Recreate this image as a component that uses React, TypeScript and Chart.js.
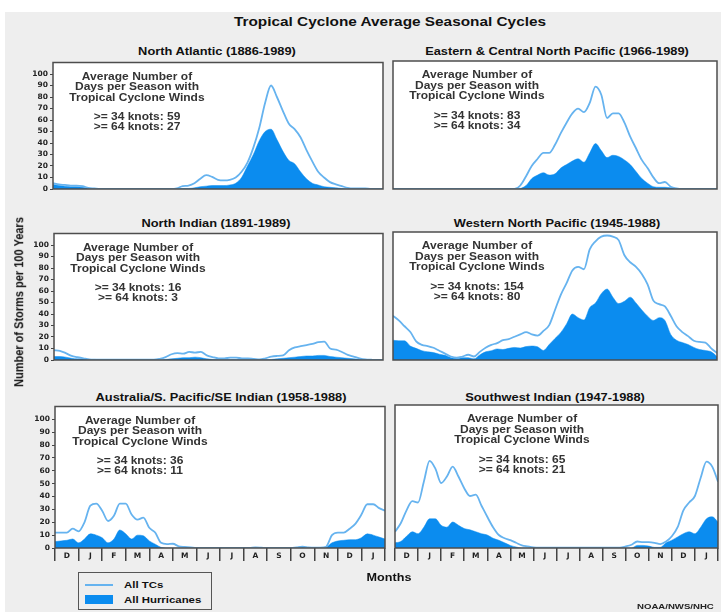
import React, { useEffect, useRef } from 'react';
import { Chart, registerables } from 'chart.js';

Chart.register(...registerables);

// ---------------- data ----------------
const mainTitle = 'Tropical Cyclone Average Seasonal Cycles';
const panelTitles = [
  'North Atlantic (1886-1989)',
  'Eastern & Central North Pacific (1966-1989)',
  'North Indian (1891-1989)',
  'Western North Pacific (1945-1988)',
  'Australia/S. Pacific/SE Indian (1958-1988)',
  'Southwest Indian (1947-1988)',
];
const knots34 = [59, 83, 16, 154, 36, 65];
const knots64 = [27, 34, 3, 80, 11, 21];
const noteHeader = ['Average Number of', 'Days per Season with', 'Tropical Cyclone Winds'];
const monthLabels = ['D', 'J', 'F', 'M', 'A', 'M', 'J', 'J', 'A', 'S', 'O', 'N', 'D', 'J'];
const yTickValues = [0, 10, 20, 30, 40, 50, 60, 70, 80, 90, 100];
const yAxisTitle = 'Number of Storms per 100 Years';
const xAxisTitle = 'Months';
const legendLabels = ['All TCs', 'All Hurricanes'];
const creditText = 'NOAA/NWS/NHC';

// sample positions: quarter-month steps from start of Dec to end of the following Jan (14 months)
const samplePositions = Array.from({ length: 57 }, (_, i) => i / 4);

const naTC = [5, 4, 3.5, 3, 3, 2.5, 1, 0.5, 0, 0, 0, 0, 0, 0, 0, 0, 0, 0, 0, 0, 0,
  0.5, 2.5, 3, 5, 9, 12, 10.5, 8, 7.5, 8, 10, 15, 23, 36, 53, 75, 90, 80, 68, 57, 52, 45, 34, 24,
  15, 10, 6, 4, 2.5, 1, 0.5, 0.5, 0.5, 0, 0, 0];
const naHU = [4, 3, 2.5, 2, 2, 1.5, 0.5, 0, 0, 0, 0, 0, 0, 0, 0, 0, 0, 0, 0, 0, 0,
  0, 0.5, 0.5, 1, 2, 2.5, 3, 3, 3, 3.5, 5, 10, 20, 30, 42, 50, 52, 43, 33, 25, 22, 15, 9, 5,
  3.5, 2, 1.5, 1, 0.5, 0, 0, 0, 0, 0, 0, 0];

const epTC = [0, 0, 0, 0, 0, 0, 0, 0, 0, 0, 0, 0, 0, 0, 0, 0, 0, 0, 0, 0, 0, 0,
  3, 11, 20, 26, 31, 31, 38, 48, 57, 65, 69, 66, 74, 88, 81, 61, 65, 65, 57, 45, 35, 25, 18,
  10, 5, 6, 2, 0.5, 0, 0, 0, 0, 0, 0, 0];
const epHU = [0, 0, 0, 0, 0, 0, 0, 0, 0, 0, 0, 0, 0, 0, 0, 0, 0, 0, 0, 0, 0, 0,
  0.5, 3, 9, 12, 14, 12, 13, 18, 21, 24, 26, 23, 31, 39, 33, 27, 29, 28, 25, 21, 15, 9, 5,
  2, 1.5, 1.5, 1, 0.5, 0, 0, 0, 0, 0, 0, 0];

const niTC = [8.5, 8, 6, 3.5, 2.5, 1.5, 0.5, 0.3, 0.2, 0.2, 0.2, 0.2, 0.2, 0.2, 0.2, 0.2, 0.2, 0.2,
  1, 2.5, 5, 6, 5.5, 7, 6.5, 7, 4, 2.5, 1.5, 1.5, 2, 2, 1.5, 1.5, 1, 0.5, 1.5, 3, 3.5, 4,
  8.5, 11, 12, 13, 14, 15.5, 16, 10, 9, 7, 4.5, 3, 1.5, 0.5, 0.2, 0, 0];
const niHU = [3, 3, 2.5, 1.5, 1, 1, 0.5, 0.5, 0, 0, 0, 0, 0, 0, 0, 0, 0, 0, 0,
  0.5, 1, 1.5, 2, 2, 2.5, 2, 1, 0.5, 0.3, 0.3, 0.3, 0.3, 0.3, 0.3, 0.3, 0.3, 0.3,
  0.5, 1, 1.5, 2, 2.5, 3, 3.5, 3.5, 4, 4, 3, 2.5, 2, 1.5, 1, 0.5, 0.3, 0, 0, 0];

const wpTC = [38, 34, 29, 24, 16, 13, 12, 10.5, 8, 5.5, 3, 2, 3, 4.5, 3, 7, 10.5, 13, 14.5, 17,
  18, 20, 22, 24, 22, 21, 25, 30, 43, 56, 66, 77, 80, 78, 95, 102, 106, 107, 106, 103, 90, 84,
  80, 74, 65, 51, 48, 46, 38, 29, 24, 20.5, 16.5, 15.5, 15, 10, 6];
const wpHU = [17, 16.5, 16.5, 12, 10, 8, 7, 6.4, 5, 4, 2, 1.3, 2, 2, 1, 4.4, 7, 8, 9.5, 9, 10,
  10.8, 10.3, 11.5, 12, 11.3, 8.2, 13.3, 18.5, 23.6, 31, 39.5, 36.4, 34.4, 45, 49, 57, 61, 54,
  48.5, 50.5, 54, 49, 43, 37.7, 34, 36.4, 34, 22, 17, 15, 13.3, 10.8, 9, 8.2, 7, 3];

const auTC = [12, 12, 12, 15, 13, 20, 33, 34.5, 29, 21, 25, 34.5, 34.5, 26, 22, 23.6, 15.7, 12,
  4, 3, 3.3, 1.3, 0.8, 0.5, 0, 0, 0, 0, 0, 0, 0, 0, 0, 0, 0.5, 0.3, 0, 0, 0, 0, 0, 0.5, 1, 0.5,
  0.3, 0.3, 1, 10, 12, 12, 15, 19, 26, 34, 34, 31, 29];
const auHU = [5, 5.5, 6, 7, 4, 7, 11, 10, 8, 4, 7, 14, 11, 7, 10, 9.5, 5.5, 3, 0.5, 0, 0, 0, 0,
  0, 0, 0, 0, 0, 0, 0, 0, 0, 0, 0, 0, 0, 0, 0, 0, 0, 0, 0.3, 0.8, 0.3, 0, 0, 0.5, 4, 5.5, 6,
  6.5, 6.5, 8, 11, 10, 8.5, 7];

const swTC = [12.5, 19, 29, 36, 35, 51, 67, 61, 50, 55, 62.6, 55, 46, 40, 41, 32.5, 24, 16, 10,
  7.5, 6, 4, 2, 1.2, 0.5, 0.3, 0.3, 0.3, 0.3, 0.3, 0.3, 0.3, 0.3, 0.3, 0.3, 0.3, 0.3, 0.3, 0.3,
  0.3, 1.2, 2.5, 5, 4.5, 4.5, 4, 3, 5, 9, 16, 29, 35, 40, 54, 66.5, 62.6, 51];
const swHU = [4, 5, 9, 12.5, 11, 16, 22.5, 22.5, 17.5, 16, 20, 17.5, 15, 14, 12.5, 11, 10, 7.5,
  6, 4, 2, 0.8, 0, 0, 0, 0, 0, 0, 0, 0, 0, 0, 0, 0, 0, 0, 0, 0, 0, 0, 0, 0, 2, 2, 1.5, 0.5, 0.5,
  4, 6, 8.5, 11, 12.5, 11, 16, 22.5, 24, 20];

const tcSeries = [naTC, epTC, niTC, wpTC, auTC, swTC];
const huSeries = [naHU, epHU, niHU, wpHU, auHU, swHU];

// ---------------- styles / layout ----------------
const TC_COLOR = '#66b3ef';
const HU_COLOR = '#0b8cef';
const BG = '#eeeeee';
const FONT = '"Liberation Sans", Arial, Helvetica, sans-serif';
const TICK_FONT = { family: '"DejaVu Sans", sans-serif', weight: 'bold' as const, size: 7.5 };
const PAD = 5;
const STRETCH = 1.2;

const boxes = [
  { left: 53, top: 61, right: 383, bottom: 204, titleX: 217, titleY: 51, textX: 84 },
  { left: 388, top: 61, right: 717, bottom: 204, titleX: 557, titleY: 51, textX: 84 },
  { left: 54, top: 232, right: 383, bottom: 375, titleX: 216, titleY: 223, textX: 84 },
  { left: 388, top: 232, right: 717, bottom: 375, titleX: 557, titleY: 223, textX: 84 },
  { left: 55, top: 405, right: 385, bottom: 548, titleX: 221, titleY: 397, textX: 85 },
  { left: 390, top: 405, right: 718, bottom: 548, titleX: 555, titleY: 397, textX: 127 },
];
const noteOffsets = [14.5, 25, 35.5, 55, 65];

const monthTickValues = monthLabels.flatMap((_, i) => [i, i + 0.5]).concat([monthLabels.length]);

const panelDeco = {
  id: 'panelDeco',
  beforeDraw(chart: any) {
    const { ctx, chartArea: a } = chart;
    ctx.save();
    ctx.fillStyle = '#ffffff';
    ctx.fillRect(a.left, a.top, a.right - a.left, a.bottom - a.top);
    ctx.restore();
  },
  afterDraw(chart: any, _args: any, opts: any) {
    const { ctx, chartArea: a } = chart;
    ctx.save();
    ctx.fillStyle = '#333333';
    ctx.font = `bold 10px ${FONT}`;
    ctx.textAlign = 'center';
    ctx.textBaseline = 'middle';
    const lines: string[] = opts.lines || [];
    lines.forEach((line, i) => {
      ctx.save();
      ctx.translate(a.left + opts.textX, a.top + noteOffsets[i]);
      ctx.scale(STRETCH, 1);
      ctx.fillText(line, 0, 0);
      ctx.restore();
    });
    ctx.strokeStyle = '#4d4d4d';
    ctx.lineWidth = 1.5;
    ctx.strokeRect(a.left, a.top, a.right - a.left, a.bottom - a.top);
    ctx.restore();
  },
};

function Panel({ index }: { index: number }) {
  const ref = useRef<HTMLCanvasElement>(null);
  const b = boxes[index];
  const isLeft = index % 2 === 0;
  const isBottom = index >= 4;
  const cl = isLeft ? 18 : b.left - PAD;
  const ct = b.top - PAD;
  const cw = b.right + PAD - cl;
  const ch = isBottom ? b.bottom + 16 - ct : b.bottom + PAD - ct;
  const yAxisWidth = b.left - cl;

  useEffect(() => {
    const toXY = (arr: number[]) => arr.map((v, i) => ({ x: samplePositions[i], y: v }));
    const lines = [
      ...noteHeader,
      `>= 34 knots: ${knots34[index]}`,
      `>= 64 knots: ${knots64[index]}`,
    ];
    const chart = new Chart(ref.current!, {
      type: 'line',
      data: {
        datasets: [
          {
            label: legendLabels[0],
            data: toXY(tcSeries[index]),
            borderColor: TC_COLOR,
            borderWidth: 1.8,
            pointRadius: 0,
            fill: false,
            cubicInterpolationMode: 'monotone',
          },
          {
            label: legendLabels[1],
            data: toXY(huSeries[index]),
            borderColor: HU_COLOR,
            borderWidth: 0.5,
            backgroundColor: HU_COLOR,
            pointRadius: 0,
            fill: 'origin',
            cubicInterpolationMode: 'monotone',
          },
        ],
      },
      options: {
        responsive: false,
        animation: false,
        devicePixelRatio: 1,
        events: [],
        layout: {
          padding: { left: isLeft ? 0 : PAD, right: PAD, top: PAD, bottom: isBottom ? 1 : PAD },
        },
        plugins: {
          legend: { display: false },
          tooltip: { enabled: false },
          title: { display: false },
          panelDeco: { lines, textX: b.textX },
        } as any,
        scales: {
          x: {
            type: 'linear',
            min: 0,
            max: monthLabels.length,
            display: isBottom,
            afterBuildTicks: (axis: any) => {
              axis.ticks = monthTickValues.map((v) => ({ value: v }));
            },
            afterFit: (axis: any) => {
              axis.height = 15;
            },
            grid: {
              drawOnChartArea: false,
              drawTicks: true,
              tickLength: 13,
              lineWidth: 1.5,
              color: (c: any) => (c.index % 2 === 0 ? '#444444' : 'rgba(0,0,0,0)'),
            },
            border: { display: false },
            ticks: {
              autoSkip: false,
              maxRotation: 0,
              minRotation: 0,
              padding: -9,
              font: TICK_FONT,
              color: '#222222',
              callback: (_v: any, i: number) => (i % 2 === 1 ? monthLabels[(i - 1) / 2] : ''),
            },
          },
          y: {
            type: 'linear',
            min: 0,
            max: 110,
            display: isLeft,
            afterBuildTicks: (axis: any) => {
              axis.ticks = yTickValues.map((v) => ({ value: v }));
            },
            afterFit: (axis: any) => {
              axis.width = yAxisWidth;
            },
            grid: { drawOnChartArea: false, drawTicks: true, tickLength: 3, color: '#444444' },
            border: { display: false },
            ticks: { font: TICK_FONT, color: '#222222', padding: 2 },
          },
        },
      },
      plugins: [panelDeco],
    });
    return () => chart.destroy();
  }, [index]);

  return (
    <canvas
      ref={ref}
      width={cw}
      height={ch}
      style={{ position: 'absolute', left: cl, top: ct, width: cw, height: ch }}
    />
  );
}

function Label({
  x, y, text, size, anchor = 'center', color = '#111111', rotate = false,
}: { x: number; y: number; text: string; size: number; anchor?: 'center' | 'left'; color?: string; rotate?: boolean }) {
  let transform = anchor === 'center' ? `translate(-50%, -50%) scaleX(${STRETCH})` : `translate(0, -50%) scaleX(${STRETCH})`;
  if (rotate) transform = `translate(-50%, -50%) rotate(-90deg) scaleY(${STRETCH})`;
  return (
    <div
      style={{
        position: 'absolute',
        left: x,
        top: y,
        transform,
        transformOrigin: anchor === 'left' ? 'left center' : 'center center',
        whiteSpace: 'nowrap',
        fontFamily: FONT,
        fontWeight: 'bold',
        fontSize: size,
        lineHeight: 1,
        color,
      }}
    >
      {text}
    </div>
  );
}

export default function App() {
  return (
    <div
      style={{
        position: 'absolute',
        left: 0,
        top: 0,
        width: 721,
        height: 612,
        overflow: 'hidden',
        background: '#ffffff',
      }}
    >
      <div style={{ position: 'absolute', left: 5, top: 12, width: 716, height: 600, background: BG }} />
      <Label x={390} y={22} text={mainTitle} size={12.8} />
      {boxes.map((b, i) => (
        <Label key={'t' + i} x={b.titleX} y={b.titleY} text={panelTitles[i]} size={10.7} />
      ))}
      {boxes.map((_, i) => (
        <Panel key={'p' + i} index={i} />
      ))}
      <Label x={19} y={302} text={yAxisTitle} size={11} rotate />
      <Label x={389} y={577} text={xAxisTitle} size={10.5} />
      <div
        style={{
          position: 'absolute',
          left: 78,
          top: 572,
          width: 134,
          height: 38,
          border: '1.5px solid #555555',
          boxSizing: 'border-box',
        }}
      />
      <div style={{ position: 'absolute', left: 85, top: 584, width: 28, height: 2, background: TC_COLOR }} />
      <div style={{ position: 'absolute', left: 85, top: 595, width: 28, height: 9, background: HU_COLOR }} />
      <Label x={124} y={585} text={legendLabels[0]} size={9.5} anchor="left" />
      <Label x={124} y={599.5} text={legendLabels[1]} size={9.5} anchor="left" />
      <Label x={637} y={607} text={creditText} size={8} anchor="left" color="#222222" />
    </div>
  );
}
